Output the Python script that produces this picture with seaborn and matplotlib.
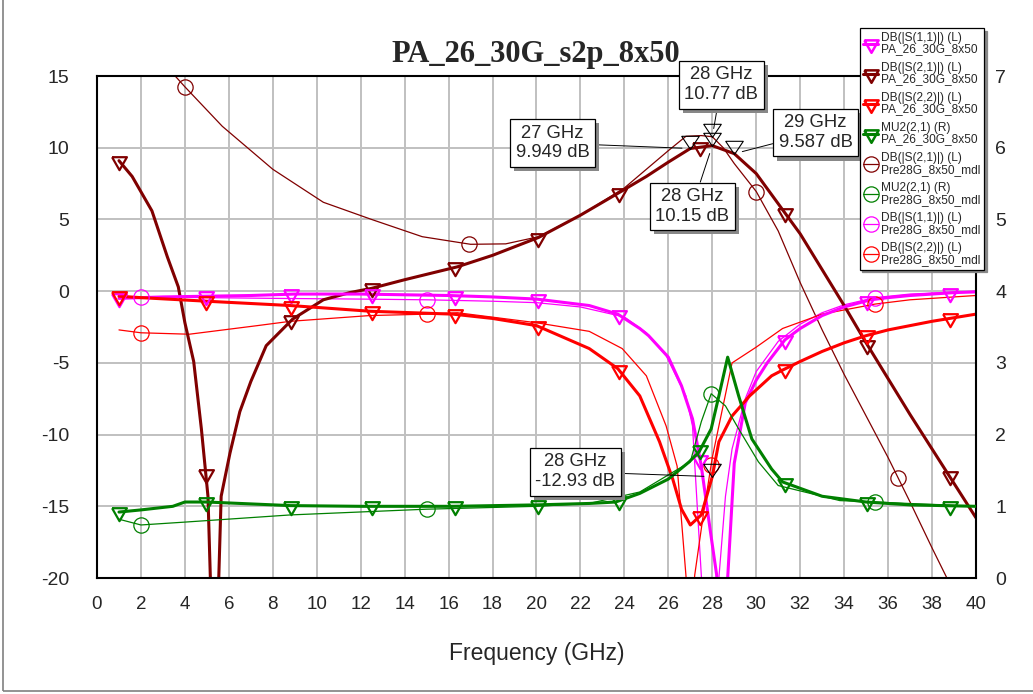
import numpy as np
import matplotlib
matplotlib.use("Agg")
import matplotlib.pyplot as plt
import matplotlib.patheffects as pe
from matplotlib.lines import Line2D
from matplotlib.patches import Rectangle
import seaborn as sns

# ---- PA_26_30G_8x50 (thick traces, triangle markers) ----
pa_s11_f = [1, 2, 3, 5, 7, 9, 12, 16, 18, 20, 22.4, 23.7, 24.7, 25.1, 26.0, 26.6, 27.1, 27.5, 27.9, 28.2,
            28.45, 28.7, 29.0, 29.5, 30.0, 30.5, 31.3, 32, 33, 34, 35.2, 36, 37, 38, 39, 40]
pa_s11 = [-0.5, -0.45, -0.4, -0.35, -0.3, -0.2, -0.2, -0.3, -0.4, -0.55, -1.0, -1.6, -2.6, -3.1, -4.6, -6.6, -8.9, -12.2, -16.6, -19.8,
          -26, -20, -12, -7.8, -6.2, -5.0, -3.4, -2.6, -1.7, -1.1, -0.6, -0.45, -0.3, -0.2, -0.1, -0.05]

pa_s21_f = [1, 1.6, 2.5, 3.2, 3.7, 4.0, 4.4, 4.75, 5.05, 5.35, 5.65, 6.05, 6.5, 7.0, 7.7, 8.9, 10.3, 11.5, 12.5, 14,
            16.4, 18, 20.1, 22, 23.9, 25, 26, 27, 28, 29, 30, 31, 32, 33, 34, 35, 36, 37, 38, 39, 40]
pa_s21 = [9.1, 8.0, 5.6, 2.4, 0.3, -2.2, -4.9, -9.6, -14.3, -30, -14.3, -11.3, -8.4, -6.3, -3.8, -1.95, -0.6, -0.1, 0.2, 0.8,
          1.7, 2.5, 3.75, 5.3, 7.0, 8.0, 9.0, 9.95, 10.15, 9.59, 8.2, 6.1, 4.0, 1.5, -1.0, -3.6, -6.1, -8.6, -11.0, -13.4, -15.8]

pa_s22_f = [1, 2, 5, 8.8, 12.45, 16.2, 18, 20, 22.4, 23.7, 24.7, 25.6, 26.2, 26.6, 27.0, 27.5, 28.0, 28.3, 28.9, 29.7,
            30.7, 31.2, 32, 33, 34, 35, 36, 37, 38, 39, 40]
pa_s22 = [-0.35, -0.45, -0.7, -1.0, -1.4, -1.6, -1.9, -2.4, -4.0, -5.4, -7.3, -10.5, -13.1, -15.2, -16.3, -15.6, -12.93, -10.5, -8.7, -7.3,
          -5.9, -5.5, -4.9, -4.2, -3.6, -3.1, -2.7, -2.4, -2.1, -1.85, -1.6]

pa_mu2_f = [1, 2, 3.45, 4, 5, 8.8, 12, 16.2, 20, 22.4, 23.6, 24.7, 26.0, 26.95, 27.4, 27.95, 28.3, 28.7, 29.2, 29.8,
            30.7, 31.2, 33, 35, 37, 40]
pa_mu2 = [0.92, 0.95, 1.0, 1.06, 1.06, 1.01, 1.0, 1.0, 1.02, 1.04, 1.06, 1.18, 1.38, 1.62, 1.76, 2.08, 2.54, 3.08, 2.54, 1.94,
          1.52, 1.34, 1.14, 1.06, 1.02, 1.0]

pa_marks = [1, 4.95, 8.85, 12.5, 16.3, 20.05, 23.75, 27.45, 31.3, 35.05, 38.8]

# ---- Pre28G_8x50_mdl (thin traces, circle markers) ----
pre_s21_f = [3.5, 4.0, 5.7, 8.0, 10.3, 12.5, 14.8, 17.0, 18.6, 20.1, 22, 24, 26, 26.8, 27.5, 28.0, 28.5, 29, 30, 31,
             32, 33, 34, 35, 36, 37, 38, 39]
pre_s21 = [15.1, 14.25, 11.5, 8.5, 6.2, 5.0, 3.8, 3.27, 3.3, 3.8, 5.3, 7.2, 9.8, 10.8, 10.85, 10.77, 10.0, 8.9, 6.95, 4.2,
           0.6, -2.7, -5.8, -8.7, -11.6, -14.7, -17.9, -21.0]
pre_s21_marks = [4.0, 16.95, 30.0, 36.45]

pre_mu2_f = [1, 2, 4, 8.8, 15, 20, 22.4, 24.7, 25.9, 27.0, 27.5, 27.95, 28.6, 29.2, 30.1, 31.0, 33.8, 35.4, 40]
pre_mu2 = [0.82, 0.74, 0.78, 0.88, 0.96, 1.0, 1.04, 1.2, 1.42, 1.62, 2.18, 2.57, 2.4, 2.08, 1.62, 1.29, 1.08, 1.06, 1.0]

pre_s11_f = [1, 2, 5, 8, 12, 15, 18, 20, 22, 24, 25, 25.9, 26.8, 27.1, 27.5, 27.9, 28.3, 28.6, 28.9, 29.5,
             30, 31, 32, 33, 34, 35.4, 37, 40]
pre_s11 = [-0.35, -0.4, -0.45, -0.5, -0.55, -0.6, -0.7, -0.8, -1.1, -1.8, -2.9, -4.5, -7.3, -9.4, -19.8, -28, -20, -14.3, -11, -7.5,
           -5.6, -3.5, -2.3, -1.5, -0.95, -0.45, -0.2, 0.0]

pre_s22_f = [1, 2, 4.2, 7.3, 8.8, 12.4, 15, 16.4, 20, 22.4, 23.9, 25, 25.9, 26.4, 26.8, 27.0, 27.2, 27.6, 28.0, 28.9,
             30, 31.2, 33, 35.4, 37, 40]
pre_s22 = [-2.7, -2.9, -3.0, -2.4, -2.1, -1.7, -1.6, -1.5, -2.2, -2.8, -4.0, -5.9, -9.4, -12.2, -19.8, -24, -19.8, -15.5, -11.6, -5.0,
           -3.9, -2.6, -1.6, -0.9, -0.6, -0.3]
pre_marks = [2.0, 15.0, 27.95, 35.4]

# marker readouts
readout_f = [27, 28, 28, 29, 28]
readout_v = [9.949, 10.77, 10.15, 9.587, -12.93]
readout_text = ["27 GHz\n9.949 dB", "28 GHz\n10.77 dB", "28 GHz\n10.15 dB", "29 GHz\n9.587 dB", "28 GHz\n-12.93 dB"]
readout_pos = [(20.73, 10.33), (28.41, 14.4), (27.09, 5.91), (32.7, 11.06), (21.77, -12.59)]

DRED, MAG, RED, GRN = "#800000", "#ff00ff", "#ff0000", "#008000"

sns.set_style("white")
plt.rcParams['font.family'] = ['Liberation Sans', 'DejaVu Sans']
plt.rcParams['axes.unicode_minus'] = False

tri = [(-1, 0.58), (1, 0.58), (0, -1.17), (-1, 0.58)]      # open down-triangle
tip_tri = [(-1, 1.5), (1, 1.5), (0, 0), (-1, 1.5)]         # readout triangle, tip on the point

fig = plt.figure(figsize=(10.33, 6.94), dpi=100)
ax = fig.add_axes([0.0939, 0.1671, 0.8509, 0.7233])
ax2 = ax.twinx()


def trace(axis, f, v, color, thick):
    sns.lineplot(x=f, y=v, ax=axis, color=color, linewidth=2.2 if thick else 0.9,
                 estimator=None, sort=False, legend=False)


def marks(axis, f, v, where, color, thick):
    axis.plot(where, np.interp(where, f, v), ls="none",
              marker=tri if thick else "o", ms=12.5 if thick else 11,
              mfc="none", mec=color, mew=1.6 if thick else 0.9)


# thin (model) traces first, then the thick PA traces
trace(ax, pre_s21_f, pre_s21, DRED, False)
trace(ax, pre_s11_f, pre_s11, MAG, False)
trace(ax, pre_s22_f, pre_s22, RED, False)
trace(ax, pa_s21_f, pa_s21, DRED, True)
trace(ax, pa_s11_f, pa_s11, MAG, True)
trace(ax, pa_s22_f, pa_s22, RED, True)
marks(ax, pre_s21_f, pre_s21, pre_s21_marks, DRED, False)
marks(ax, pre_s11_f, pre_s11, pre_marks, MAG, False)
marks(ax, pre_s22_f, pre_s22, pre_marks, RED, False)
marks(ax, pa_s21_f, pa_s21, pa_marks, DRED, True)
marks(ax, pa_s11_f, pa_s11, pa_marks, MAG, True)
marks(ax, pa_s22_f, pa_s22, pa_marks, RED, True)

trace(ax2, pre_mu2_f, pre_mu2, GRN, False)
trace(ax2, pa_mu2_f, pa_mu2, GRN, True)
marks(ax2, pre_mu2_f, pre_mu2, pre_marks, GRN, False)
marks(ax2, pa_mu2_f, pa_mu2, pa_marks, GRN, True)

ax.set_xlim(0, 40)
ax.set_ylim(-20, 15)
ax2.set_ylim(0, 7)
ax.set_xticks(range(0, 41, 2))
ax.set_yticks(range(-20, 16, 5))
ax2.set_yticks(range(0, 8))
ax.grid(True, color="#c0c0c0", lw=1.4)
ax.set_axisbelow(True)
ax.tick_params(axis="x", length=0, pad=13, labelsize=13.5)
ax.tick_params(axis="y", length=0, pad=20, labelsize=14)
ax2.tick_params(axis="y", length=0, pad=14, labelsize=14)
for s in ax.spines.values():
    s.set_color("black")
    s.set_linewidth(1.5)
for s in ax2.spines.values():
    s.set_visible(False)
ax.set_xlabel("Frequency (GHz)", fontsize=16.5, labelpad=21)
ax.set_ylabel("")
ax2.set_ylabel("")

# marker readouts (drawn on the upper axes, in left-axis units)
ax2.plot(readout_f, readout_v, ls="none", marker=tip_tri, ms=19, mfc="none",
         mec="black", mew=0.8, transform=ax.transData, clip_on=False)
for fx, vy, txt, pos in zip(readout_f, readout_v, readout_text, readout_pos):
    a = ax2.annotate(txt, xy=(fx, vy), xycoords=ax.transData, xytext=pos, textcoords=ax.transData,
                     ha="center", va="center", fontsize=13.3, annotation_clip=False,
                     bbox=dict(boxstyle="square,pad=0.3", fc="white", ec="black", lw=0.9),
                     arrowprops=dict(arrowstyle="-", color="black", lw=0.7, shrinkA=0, shrinkB=6))
    a.get_bbox_patch().set_path_effects([pe.SimplePatchShadow(offset=(3, -3), shadow_rgbFace="#888888", alpha=1),
                                         pe.Normal()])

fig.text(0.519, 0.9107, "PA_26_30G_s2p_8x50", ha="center", va="baseline",
         fontsize=22, fontweight="bold", family="Liberation Serif")

# legend
handles = []
labels = []
for color, name in [(MAG, "DB(|S(1,1)|) (L)"), (DRED, "DB(|S(2,1)|) (L)"), (RED, "DB(|S(2,2)|) (L)"), (GRN, "MU2(2,1) (R)")]:
    handles.append(Line2D([], [], color=color, lw=2.2, marker=tri, ms=12, mfc="none", mec=color, mew=1.8))
    labels.append(name + "\nPA_26_30G_8x50")
for color, name in [(DRED, "DB(|S(2,1)|) (L)"), (GRN, "MU2(2,1) (R)"), (MAG, "DB(|S(1,1)|) (L)"), (RED, "DB(|S(2,2)|) (L)")]:
    handles.append(Line2D([], [], color=color, lw=0.9, marker="o", ms=11, mfc="none", mec=color, mew=0.9))
    labels.append(name + "\nPre28G_8x50_mdl")
leg = fig.legend(handles, labels, loc="upper right", bbox_to_anchor=(984 / 1033, 0.9597),
                 prop={"family": ["Liberation Sans Narrow", "Liberation Sans"], "size": 8.6},
                 frameon=True, fancybox=False, shadow={"color": "#888888", "alpha": 1},
                 handlelength=1.25, handletextpad=0.25, borderpad=0.3, labelspacing=0.55,
                 borderaxespad=0)
leg.get_frame().set_edgecolor("black")
leg.get_frame().set_linewidth(0.9)
for t in leg.get_texts():
    t.set_linespacing(0.95)

fig.add_artist(Rectangle((0.003, 0.004), 1.5, 1.5, transform=fig.transFigure, fill=False,
                         edgecolor="#808080", lw=1.2))

fig.savefig("out.png", dpi=100)
